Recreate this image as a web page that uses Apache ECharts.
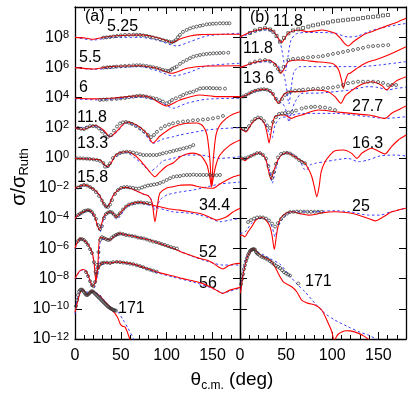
<!DOCTYPE html>
<html><head><meta charset="utf-8">
<script src="https://cdn.jsdelivr.net/npm/echarts@6/dist/echarts.min.js"></script>
<style>html,body{margin:0;padding:0;background:#fff}#c{width:415px;height:395px}</style>
</head><body><div id="c"></div>
<script>
// ---- values: [angle (deg), log10(sigma/sigma_Ruth)] ; offsets in decades ----
const xTicks = [0, 50, 100, 150];
const yTickExps = [-12, -10, -8, -6, -4, -2, 0, 2, 4, 6, 8];
const offsetsA = [8, 6, 4, 2, 0, -2, -4, -6, -8, -10];
const offsetsB = [8, 6, 4, 2, 0, -4, -8];
const energiesA = ['5.25', '5.5', '6', '11.8', '13.3', '15.8', '34.4', '52', '56', '171'];
const energiesB = ['11.8', '11.8', '13.6', '27.7', '16.3', '25', '171'];

// Panel (a)
const a1_pts = [[30.9,-0.03],[34.5,-0.01],[38.2,0.01],[42,0.05],[45.8,0.08],[50,0.12],[54.5,0.15],[59,0.16],[63.6,0.17],[67.3,0.16],[70.9,0.15],[74.5,0.12],[78.2,0.08],[81.7,0.03],[85.1,-0.02],[89,-0.08],[92.7,-0.14],[96.3,-0.2],[100,-0.25],[103,-0.3],[105.5,-0.34],[108,-0.28],[110.1,-0.19],[112.3,0],[114.5,0.15],[117.8,0.35],[121.8,0.48],[125.4,0.58],[129,0.65],[132.7,0.7],[136.3,0.75],[139.6,0.79],[143.6,0.85],[147,0.87],[150.5,0.89],[154,0.9],[158.1,0.92],[161.7,0.92],[165.4,0.92],[168.5,0.92]];
const a1_red = [[0,-0.01],[10.9,-0.05],[18.5,-0.14],[32.7,0.01],[49.1,0.11],[74.2,0.15],[87.2,0.01],[98.1,-0.19],[105.8,-0.36],[114.5,-0.12],[125.4,0.08],[136.3,0.17],[158.1,0.19],[180,0.19]];
const a1_blue = [[0,0],[19.6,-0.19],[38.2,-0.03],[70.9,-0.01],[89.4,-0.19],[110.9,-0.58],[125.4,-0.3],[143.6,0.08],[165.4,0.21],[180,0.26]];

const a2_pts = [[30.9,-0.02],[35,0],[38.2,0.01],[42,0.03],[45.5,0.05],[50,0.07],[54.5,0.09],[59,0.11],[63.6,0.13],[67.3,0.14],[70.9,0.14],[74.5,0.12],[78.2,0.09],[82,0.05],[85.5,0.01],[89.1,-0.04],[92.5,-0.1],[95.9,-0.17],[99,-0.21],[101.7,-0.24],[104,-0.2],[105.8,-0.11],[108.5,-0.03],[110.9,0.05],[114.5,0.23],[118,0.37],[121.8,0.49],[125.4,0.61],[129,0.71],[132.7,0.77],[136.3,0.82],[140,0.86],[143.6,0.89],[147.2,0.91],[150.8,0.93],[154.5,0.94],[158.1,0.95],[162,0.96],[167.2,0.97]];
const a2_red = [[0,-0.02],[19.6,-0.11],[38.2,0.05],[70.9,0.11],[89.4,-0.06],[105.8,-0.39],[122.1,-0.06],[143.6,0.09],[180,0.11]];
const a2_blue = [[0,-0.02],[19.6,-0.13],[45.5,-0.02],[70.9,0.05],[89.1,-0.22],[107.2,-0.57],[121.8,-0.39],[143.6,0.09],[180,0.27]];

const a3_pts = [[27.3,-0.16],[31,-0.14],[34.6,-0.13],[40,-0.11],[45.5,-0.09],[50,-0.06],[54.5,-0.03],[59,0.02],[63.6,0.06],[67.3,0.1],[70.9,0.13],[74.5,0.1],[78.2,0.06],[82,0.01],[85.5,-0.04],[89.1,-0.09],[92.5,-0.18],[95.9,-0.27],[100,-0.38],[103,-0.3],[105.8,-0.16],[110,-0.05],[114.5,0.06],[118,0.17],[121.8,0.28],[125.4,0.34],[129,0.39],[132.7,0.5],[136.3,0.6],[140,0.62],[143.6,0.63],[147.2,0.63],[150.8,0.62],[154.5,0.61],[158.1,0.6],[163.6,0.59]];
const a3_red = [[0,-0.05],[19.6,-0.09],[38.2,-0.05],[70.9,0.11],[81.8,0.02],[100,-0.56],[114.5,-0.16],[136.3,0.17],[154.5,0.06],[180,0.06]];
const a3_blue = [[0,-0.09],[27.3,-0.16],[70.9,0.02],[92.7,-0.27],[107.2,-0.71],[121.8,-0.38],[143.6,-0.11],[180,-0.05]];

const a4_pts = [[3.3,-0.02],[6.5,-0.07],[9.8,-0.09],[13.1,0.01],[16.4,0.11],[19.6,0.11],[22.9,0.09],[26.2,-0.05],[29.4,-0.25],[32.7,-0.45],[36,-0.6],[39.3,-0.48],[42.5,-0.19],[45.8,0.08],[49.1,0.28],[52.3,0.36],[55.6,0.38],[58.9,0.33],[62.2,0.25],[66.5,0.11],[70.9,-0.05],[75.2,-0.25],[79.6,-0.48],[82.9,-0.62],[86.2,-0.48],[89.4,-0.27],[93.8,-0.05],[98.1,0.11],[102.5,0.21],[106.9,0.29],[112.3,0.36],[117.8,0.41],[123.2,0.44],[128.7,0.49],[134.1,0.51],[139.6,0.54],[145,0.57],[150.5,0.62],[156,0.68],[161.4,0.78]];
const a4_red = [[0,0],[9.1,-0.11],[21.8,0.16],[30.9,-0.15],[38.2,-0.6],[45.8,-0.22],[56.4,0.38],[67.3,0.18],[78.2,-0.37],[85.1,-1.01],[92.7,-0.55],[106.9,0.05],[120,0.28],[133,0.31],[139.6,0.11],[144,-0.48],[147.2,-2.14],[149,-3.91],[150.8,-2.14],[153.8,-0.48],[158.1,0.18],[165.4,0.64],[172.3,0.9],[180,1.06]];
const a4_blue = [[0,-0.04],[10.9,0.05],[20,0.11],[30.5,-0.22],[38.2,-0.62],[45.8,-0.28],[56.4,0.33],[67.3,0.07],[76.3,-0.42],[85.1,-1.03],[96,-0.75],[106.9,-0.6],[114.5,-0.48],[125.4,-0.35],[143.6,-0.15],[161.4,-0.05],[180,0]];

const a5_pts = [[1.9,-0.03],[5.5,-0.03],[9,-0.04],[12.8,-0.05],[16,-0.07],[20,-0.1],[23.7,-0.14],[27.3,-0.2],[30.9,-0.34],[32.7,-0.58],[36,-0.54],[38.2,-0.36],[41.4,-0.01],[45.5,0.19],[49.1,0.32],[52.7,0.38],[56.4,0.41],[60,0.39],[63.6,0.35],[67.3,0.3],[71,0.24],[74.5,0.19],[78,0.19],[81.8,0.19],[85.5,0.19],[89.1,0.19],[92.5,0.24],[95.9,0.3],[99.7,0.35],[103.6,0.41],[107.2,0.46],[110.9,0.52],[114.5,0.57],[118.2,0.63],[121.8,0.68],[125.4,0.74],[129,0.85]];
const a5_red = [[0,-0.03],[12.8,-0.07],[27.3,-0.14],[34.6,-0.58],[39.3,-0.34],[43.6,0.13],[49.1,0.36],[56.4,0.41],[63.2,0.26],[70.9,-0.14],[79.9,-0.8],[87.2,-1.25],[92.7,-0.93],[100,-0.54],[106.9,-0.34],[114.5,0.06],[121.8,0.26],[128.7,0.32],[136.3,0.19],[139.6,-0.01],[144,-0.47],[147.2,-1.33],[149,-1.91],[150.8,-1.33],[153.8,-0.47],[158.1,0.19],[169,0.85],[180,1.19]];
const a5_blue = [[0,-0.03],[27.3,-0.16],[34.6,-0.67],[41.4,-0.14],[49.1,0.3],[56.4,0.34],[65.4,-0.01],[74.5,-0.47],[81.8,-0.91],[89.1,-0.6],[96,-0.2],[106.9,-0.03],[121.8,0.19],[136.3,0.19],[158.1,-0.03],[180,0.08]];

const a6_pts = [[3.3,0.04],[6.5,0.14],[9.8,0.21],[13.1,0.17],[16.4,0.07],[19.6,-0.06],[22.9,-0.26],[26.2,-0.52],[29.4,-0.82],[31.6,-1.05],[33.8,-1.22],[36,-1.25],[38.2,-1.09],[40.4,-0.79],[43.6,-0.39],[46.9,-0.13],[50.2,0.01],[53.4,0.06],[56.7,0.07],[60,0.04],[63.3,0.01],[66.5,-0.03],[69.8,-0.03],[73.1,0.04],[76.3,0.11],[79.6,0.17],[82.9,0.2],[86.2,0.24],[89.4,0.27],[92.7,0.34],[96.3,0.42],[100,0.54],[103.6,0.65],[107.3,0.74],[111,0.78],[114.5,0.8],[118.3,0.85],[122,0.87],[125.4,0.87],[129,0.89],[132.7,0.87],[136.3,0.87],[140,0.87],[143.6,0.87],[147.2,0.87],[150.8,0.85],[154.5,0.85],[158.1,0.87]];
const a6_red = [[0,-0.01],[5.5,0.14],[10.9,0.21],[16.4,0.07],[21.8,-0.13],[27.3,-0.52],[30.9,-0.99],[34.6,-1.27],[38.2,-0.99],[41.4,-0.52],[46.9,-0.13],[52.3,0.04],[56.4,0.05],[61.1,-0.03],[67.3,-0.19],[74.2,-0.39],[80,-0.52],[84,-0.93],[87.2,-2.23],[90.5,-0.93],[92.7,-0.33],[100,0.01],[106.9,0.09],[114.5,0.19],[125.4,0.21],[136.3,0.07],[143.9,0.01],[150.4,-0.01],[158.1,0.27],[165.8,0.54],[172.3,0.74],[180,0.87]];
const a6_blue = [[0,-0.01],[10.9,0.17],[21.8,-0.16],[27.3,-0.59],[34.6,-1.32],[40.4,-0.59],[46.9,-0.13],[56.4,0.04],[67.3,-0.19],[74.2,-0.39],[81.8,-0.59],[87.2,-1.45],[92.7,-0.79],[100,-0.46],[114.5,-0.26],[128.7,-0.13],[143.6,0.07],[158.1,0.27],[180,0.4]];

const a7_pts = [[3.3,0.21],[5.5,0.31],[7.7,0.38],[9.8,0.48],[12,0.51],[14.2,0.54],[16.4,0.51],[18.5,0.41],[20.7,0.21],[22.9,-0.05],[25.1,-0.45],[27.3,-0.72],[29.4,-0.52],[31.6,0.01],[33.8,0.28],[36,0.38],[38.2,0.43],[40.4,0.38],[42.5,0.25],[44.7,0.11],[46.9,0.18],[49.1,0.34],[52.3,0.58],[55.6,0.78],[58.9,0.91],[62.2,0.97],[65.4,1.01],[68.7,1.05],[72,1.05],[75.2,1.01],[78.5,1.01],[81.8,0.98]];
const a7_red = [[0,-0.01],[3.3,0.21],[7.3,0.36],[14.2,0.54],[18.5,0.41],[21.8,0.08],[24,-0.38],[26.5,-0.78],[28.9,-0.38],[31.6,0.15],[34.9,0.34],[38.2,0.43],[41.4,0.34],[45.5,0.06],[49.1,0.34],[56.4,0.81],[63.2,1],[70.9,1.07],[81.8,0.91],[92.7,0.76],[103.6,0.61],[114.5,0.54],[125.4,0.43],[136.3,0.32],[143.9,0.15],[150.4,-0.03],[154.5,-0.12],[159.2,-0.05],[165.4,0.1],[172.3,0.41],[180,0.66]];
const a7_blue = [[0,-0.01],[14.2,0.48],[21.8,0.01],[27.3,-0.91],[31.6,0.01],[38.2,0.41],[45.8,-0.05],[56.4,0.74],[70.9,1.01],[87.2,0.74],[106.9,0.43],[125.4,0.34],[136.3,0.21],[147.2,0.01],[158.1,-0.23],[169,-0.12],[180,-0.01]];

const a8_pts = [[3.3,0.49],[5.5,0.62],[7.6,0.62],[9.8,0.56],[12,0.42],[14.2,0.23],[16.4,-0.04],[18.5,-0.3],[20.7,-0.9],[22.4,-1.55],[24,-1.09],[25.6,-0.24],[27.3,0.56],[29.4,0.75],[31.6,0.69],[33.8,0.62],[36,0.56],[38.2,0.59],[40.4,0.72],[42.5,0.82],[44.7,0.89],[46.9,0.95],[49.1,0.99],[52.3,0.95],[55.6,0.89],[58.9,0.86],[62.2,0.82],[65.4,0.79],[68.7,0.72],[72,0.69],[75.2,0.66],[78.5,0.59],[81.8,0.52],[85.1,0.46],[88.3,0.42],[91.6,0.36],[94.9,0.29],[98.1,0.23],[101.4,0.16],[104.7,0.09],[108,0.03],[111.2,-0.01]];
const a8_red = [[0,0.01],[2.7,0.42],[5.5,0.67],[8.7,0.59],[12,0.44],[15.3,0.16],[18.5,-0.22],[20.7,-0.9],[22.9,-2.23],[25.1,-0.9],[27.3,0.76],[32.7,0.66],[38.2,0.56],[43.6,0.85],[49.1,1],[56.4,0.89],[63.2,0.82],[70.9,0.69],[81.8,0.56],[92.7,0.32],[100,0.16],[106.9,0.01],[114.5,-0.2],[125.4,-0.44],[136.3,-0.67],[143.6,-0.77],[150.4,-0.97],[155.9,-1.2],[161.4,-1.36],[166.9,-1.17],[173.4,-1.03],[180,-0.99]];
const a8_blue = [[0,-0.04],[5.5,0.62],[12,0.42],[18.5,-0.3],[21.8,-1.29],[24,-1.95],[26.2,-0.64],[28.4,0.56],[38.2,0.62],[49.1,0.95],[63.3,0.82],[81.8,0.56],[100,0.16],[114.5,-0.17],[125.4,-0.47],[143.6,-0.84],[161.4,-1.1],[180,-1.1]];

const a9_pts = [[12,0.43],[14.2,0.17],[16.4,-0.17],[18.5,-0.43],[20.2,-0.5],[21.8,-0.23],[23.4,0.3],[25.1,0.7],[27.3,0.93],[29.4,1.03],[31.6,1.06],[34.9,1.06],[38.2,1.03],[41.4,1.09],[45.5,1.11],[49.1,1.09],[52.7,1.06],[56.4,1.03],[60,0.99],[63.6,0.96],[67.3,0.89],[70.9,0.83],[74.5,0.76],[78.2,0.66],[81.8,0.6],[85.4,0.53],[89.1,0.46]];
const a9_red = [[0,0.01],[3.3,0.36],[5.5,0.53],[9.1,0.61],[12,0.5],[14.7,0.17],[17.4,-0.3],[20,-0.5],[22.4,-0.1],[24.5,0.56],[27.3,0.89],[29.1,1.05],[34.6,1.06],[38.2,1.03],[45.5,1.11],[54.5,1.06],[63.6,0.96],[70.9,0.83],[85.4,0.52],[96,0.33],[107.2,0.17],[117.8,0],[129,-0.15],[139.6,-0.33],[150.8,-0.65],[155.9,-0.83],[161.1,-0.98],[164.7,-0.89],[169,-0.76],[180,-0.58]];
const a9_blue = [[0,-0.03],[5.5,0.5],[9.8,0.6],[14.2,0.17],[18,-0.43],[20.7,-0.63],[23.4,0.03],[27.3,0.83],[34.6,1.03],[45.5,1.09],[63.6,0.93],[85.4,0.46],[107.2,0.1],[129,-0.23],[143.6,-0.5],[154.5,-0.76],[161.4,-0.96],[169,-0.83],[180,-0.63]];

const a10_pts = [[1.1,0.18],[2.2,0.58],[3.3,0.91],[4.4,1.14],[5.5,1.24],[6.5,1.27],[7.6,1.27],[8.7,1.21],[9.8,1.11],[10.9,1.01],[12,0.94],[13.1,0.91],[14.2,0.94],[15.3,1.01],[16.4,1.07],[17.4,1.14],[18.5,1.17],[19.6,1.14],[20.7,1.07],[21.8,1.01],[22.9,0.94],[24,0.87],[25.1,0.81],[26.2,0.74],[27.3,0.68],[28.4,0.61],[29.4,0.54],[30.5,0.47],[31.6,0.41],[32.7,0.34],[33.8,0.28],[34.9,0.21],[36,0.15],[37.1,0.1],[38.2,0.05],[39.3,0.01],[40.4,-0.02],[41.5,-0.06],[42.5,-0.09],[43.6,-0.11],[44.7,-0.12]];
const a10_red = [[0,-0.22],[2.2,0.31],[4.4,0.84],[6.5,1.17],[8.4,1.28],[10.9,1.11],[13.4,0.91],[16.4,1.08],[19.3,1.17],[22.9,1.04],[27.3,0.84],[31.6,0.54],[36.3,0.24],[40.4,-0.09],[43.6,-0.3],[46.9,-0.62],[49.1,-0.97],[51.8,-1.15],[54.5,-1.19],[56.7,-1.48],[60,-2.03],[63.2,-2.4]];
const a10_blue = [[0,-0.35],[2.2,0.58],[5.5,1.11],[8.7,1.27],[12,1.11],[16.4,1.11],[20.7,1.11],[27.3,0.91],[36.3,0.24],[43.6,-0.09],[46.9,-0.22],[52.7,-0.75],[57.8,-1.28],[63.6,-1.96],[66.5,-2.4]];

// Panel (b)
const b1_pts = [[10.8,0.28],[16.3,0.44],[21.7,0.54],[27.1,0.59],[32.5,0.51],[36.2,0.36],[39.6,0.08],[43.4,-0.3],[47.7,-0.05],[52.4,0.26],[57.5,0.44],[63.2,0.52],[68.3,0.61],[74.1,0.7],[79.2,0.78],[84.6,0.84],[90,0.92],[95.4,0.97],[100.8,1.05],[106.3,1.09],[111.7,1.12],[117.1,1.16],[122.6,1.19],[128,1.22],[133.4,1.27],[138.8,1.32],[144.3,1.35],[149.7,1.38],[155.1,1.44],[160.5,1.47]];
const b1_red = [[0,-0.01],[1.8,0.08],[7.6,0.25],[13,0.38],[19.8,0.48],[29,0.59],[34.7,0.44],[38,0.26],[41.2,-0.05],[45.2,-0.36],[48.8,-0.05],[52.4,0.26],[57.5,0.41],[63.2,0.48],[74.1,0.36],[81.3,0.41],[88.6,0.48],[95.4,0.41],[103,0.26],[108.5,-0.05],[112.8,-0.38],[117.5,-0.58],[122.6,-0.32],[128.3,-0.07],[135.6,0.21],[142.8,0.36],[157.3,0.7],[171.7,1.03],[180,1.25]];
const b1_blue = [[0,-0.01],[16.3,0.34],[29,0.48],[38,0.21],[43.4,-0.32],[46.6,-1.25],[49.3,-2.24],[52.1,-1.25],[55.3,-0.19],[60.7,0.21],[70.5,0.31],[86.8,0.31],[103,0.26],[117.1,0.01],[128,0.08],[141,0.41],[157.3,0.68],[180,0.91]];

const b2_pts = [[10.8,0.26],[16.3,0.38],[21.7,0.46],[27.1,0.49],[32.5,0.39],[37.9,0.16],[41.2,-0.11],[43.4,-0.28],[47.2,0.03],[52.4,0.49],[57.5,0.56],[62.9,0.59],[68.3,0.62],[73.8,0.66],[79.2,0.69],[84.9,0.71],[89.9,0.75],[95.4,0.82],[100.8,0.89],[106.3,0.95],[111.7,1.02],[117.1,1.09],[122.6,1.15],[128,1.22],[133.4,1.29],[139.1,1.38],[144.3,1.41],[149.7,1.43],[155.1,1.46],[160.8,1.48]];
const b2_red = [[0,-0.01],[7.6,0.16],[13,0.29],[19.8,0.38],[30.7,0.49],[36.9,0.29],[41.2,-0.04],[44.5,-0.39],[48.3,-0.04],[52.4,0.38],[63.2,0.49],[81.3,0.38],[99.4,0.27],[104.1,0.09],[107.4,-0.24],[110.1,-0.84],[112.1,-1.39],[114.5,-0.84],[117.1,-0.44],[119.3,-0.39],[125.8,-0.11],[132.3,0.16],[138.8,0.36],[146.4,0.49],[160.8,0.82],[180,1.37]];
const b2_blue = [[0,-0.01],[16.3,0.29],[30.7,0.38],[39,0.23],[46.6,-0.3],[49.9,-1.17],[53.1,-2.43],[55.9,-1.17],[58.6,-0.3],[65.1,0.05],[86.8,0.05],[108.5,0.05],[130.2,0.05],[151.8,0.16],[180,0.38]];

const b3_pts = [[3.3,0.07],[6.5,0.17],[9.8,0.27],[13,0.37],[16.3,0.45],[19.5,0.5],[22.8,0.54],[26,0.55],[29.3,0.52],[32.5,0.44],[35.8,0.24],[39,-0.09],[42.3,-0.31],[45.6,-0.09],[48.8,0.17],[52.1,0.34],[55.3,0.4],[59.7,0.46],[64,0.49],[68.3,0.52],[73.8,0.55],[79.2,0.57],[84.6,0.59],[90,0.62],[95.4,0.64],[100.8,0.67],[106.3,0.73],[111.7,0.83],[117.1,0.95],[122.6,1],[128,1.05],[133.4,1.05],[138.8,1.05],[144.3,1.05],[149.7,1.03],[155.1,0.97],[160.5,0.83],[164.9,0.83],[169.2,0.83]];
const b3_red = [[0,-0.01],[7.6,0.17],[13,0.37],[19.8,0.5],[27.1,0.55],[34.7,0.3],[38,-0.03],[41.5,-0.38],[45.6,0.04],[48.8,0.29],[56.1,0.39],[67,0.39],[81.3,0.5],[95.4,0.39],[103,0.06],[109.5,-0.38],[114.1,0.11],[120.6,0.44],[127.2,0.72],[134.4,0.93],[142.9,1.05],[149.9,0.93],[154.2,0.77],[159.2,0.5],[162.7,0.72],[169.2,1.09],[180,1.38]];
const b3_blue = [[0,-0.01],[16.3,0.37],[27.1,0.5],[34.7,0.27],[41.2,-0.23],[46.6,-0.42],[50.4,-0.95],[53.1,-1.62],[55.9,-0.95],[59.7,-0.29],[67.2,0.28],[86.8,0.3],[103,0.39],[119.3,0.5],[139.2,0.72],[149.7,0.67],[160.8,0.5],[168.1,0.6],[180,0.68]];

const b4_pts = [[3.3,-0.09],[6.5,-0.12],[9.8,0.11],[13,0.41],[16.3,0.58],[19.5,0.68],[22.8,0.64],[26,0.44],[29.3,0.15],[32.5,-0.02],[35.8,0.38],[39,0.71],[42.3,0.91],[45.6,0.95],[48.8,0.97],[52.4,1.01],[56.4,1.04],[60.7,1.14],[66.9,1.27],[71.6,1.34],[77,1.37],[81.3,1.39],[86.8,1.37],[92.2,1.34],[97.6,1.27],[103,1.17]];
const b4_red = [[0,-0.04],[3.3,-0.15],[6.5,-0.28],[9.8,-0.02],[13,0.31],[16.3,0.51],[19.8,0.64],[23.9,0.51],[27.1,0.18],[29.3,-0.35],[31.5,-1.01],[33.6,-0.35],[35.8,0.38],[37.9,0.73],[43.4,0.84],[48.8,0.84],[52.4,0.71],[56.1,0.62],[60.7,0.74],[66.9,0.84],[75.9,1.04],[84.9,1.17],[93.3,1.14],[103,1.06],[121.1,0.95],[139.1,0.84],[147.5,0.74],[157.3,0.62],[164.9,0.97],[173.5,1.24],[180,1.44]];
const b4_blue = [[0,-0.04],[6.5,-0.22],[13,0.31],[19.8,0.64],[27.1,0.31],[31.5,-0.35],[34.7,-0.68],[38,0.18],[43.4,0.64],[50.7,0.73],[66.9,0.95],[103,0.95],[139.1,0.73],[157.3,0.62],[180,0.73]];

const b5_pts = [[2.2,-0.04],[5.4,-0.03],[8.7,0.04],[11.9,0.13],[15.2,0.22],[18.4,0.32],[21.7,0.32],[24.9,0.19],[28.2,-0.04],[30.9,-0.54],[33.1,-1.07],[34.7,-1.33],[36.9,-0.93],[39,-0.4],[41.2,0.03],[44.5,0.26],[47.7,0.32],[51,0.34],[54.2,0.29],[57.5,0.16],[60.7,0.03],[64,-0.14],[67.2,-0.27],[70.5,-0.36]];
const b5_red = [[0,-0.03],[1.8,-0.03],[5.4,-0.19],[9.8,0.06],[14.4,0.19],[19.8,0.34],[24.9,0.19],[28.2,-0.14],[30.7,-0.8],[33.6,-1.41],[36.9,-0.8],[40.1,-0.27],[43.4,0.08],[50.7,0.34],[56.4,0.19],[65.1,-0.14],[70.5,-0.36],[74.8,-0.8],[77.9,-1.25],[80.4,-1.86],[83.3,-2.57],[85.9,-1.86],[88,-0.93],[92.2,-0.25],[97.6,0.19],[103,0.48],[112.1,0.52],[121.1,0.3],[126.6,-0.03],[132.3,0.32],[142.8,0.64],[149.7,0.46],[157.3,0.26],[163.8,0.72],[171.7,1.19],[180,1.52]];
const b5_blue = [[0,-0.03],[5.4,-0.11],[10.8,0.09],[19.8,0.32],[24.9,0.19],[29.3,-0.27],[32.5,-0.93],[35,-1.68],[38,-0.93],[41.2,-0.2],[45.6,0.26],[52.4,0.34],[59.7,0.13],[65.1,-0.14],[68.7,-0.69],[72.3,-0.8],[75.9,-0.47],[81.3,-0.36],[92.2,-0.25],[103,-0.14],[117.1,-0.03],[128.3,-0.25],[138.8,-0.14],[151.8,0.13],[168.1,0.19],[180,0.13]];

const b6_pts = [[8.7,-0.25],[11.9,-0.12],[15.2,-0.02],[18.4,0.05],[21.7,0.06],[24.9,0.05],[28.2,-0.02],[31.4,-0.15],[34.7,-0.35],[38,-0.55],[41.2,-0.32],[44.5,-0.05],[47.7,0.15],[51,0.31],[54.2,0.41],[58,0.43],[61.8,0.44],[65.6,0.44],[69.4,0.44],[73.2,0.43],[77,0.43],[80.8,0.43],[84.6,0.43],[88.6,0.43]];
const b6_red = [[0,-1.18],[1.8,-1.11],[5.4,-1.22],[8.7,-0.9],[12.7,-0.56],[16.3,-0.19],[19.8,-0.01],[23.9,0.05],[28.2,-0.12],[32.5,-0.56],[34.7,-1.11],[37.2,-2.06],[39.6,-1.11],[42.3,-0.25],[45.2,0.1],[49.9,0.34],[56.1,0.43],[65.1,0.31],[74.1,0.21],[81.3,0.25],[88.6,0.36],[103,0.43],[121.1,0.33],[139.1,-0.01],[146.4,-0.17],[155.1,0.08],[163.8,0.41],[171.4,0.54],[180,0.66]];
const b6_blue = [[0,-1],[5.4,-0.91],[12.7,-0.32],[19.8,-0.01],[27.1,-0.05],[32.5,-0.25],[35.2,-0.65],[38,-1.23],[40.7,-0.65],[45.2,-0.12],[50.7,0.28],[56.1,0.43],[74.1,0.43],[103,0.5],[121.1,0.41],[139.1,0.21],[151.8,0.21],[162.7,0.41],[180,0.66]];

const b7_pts = [[1.1,-0.36],[2.2,-0.03],[3.3,0.3],[4.3,0.63],[5.4,0.89],[6.5,1.16],[7.6,1.36],[8.7,1.56],[9.8,1.69],[10.8,1.82],[11.9,1.89],[13,1.92],[14.1,1.95],[15.2,1.95],[16.3,1.92],[17.4,1.76],[18.4,1.69],[19.5,1.62],[21.7,1.52],[23.9,1.44],[26,1.39],[28.2,1.33],[30.4,1.26],[32.5,1.16],[34.7,1.06],[36.9,0.96],[39,0.86],[41.2,0.78],[43.4,0.7],[45.6,0.56],[47.7,0.43],[49.9,0.34],[52.1,0.27],[54.2,0.2],[63.2,-0.32]];
const b7_red = [[0.5,-0.96],[2.2,-0.23],[4.3,0.56],[7.6,1.36],[10.8,1.79],[14.1,1.99],[18.4,1.76],[23.9,1.49],[32.5,1.23],[38,0.78],[41.5,0.34],[47,-0.21],[56.1,-0.54],[61.5,-0.87],[66.9,-1.42],[74.1,-1.64],[81.3,-1.75],[88.6,-2.08],[95.8,-2.97],[99.5,-3.5],[102.3,-4.14],[104.5,-3.85],[107,-3.65],[110.3,-3.53],[115,-3.45],[119.3,-3.46],[128,-3.61],[134.5,-3.81],[139.2,-4.03],[143.2,-4.41]];
const b7_blue = [[0.5,-0.89],[3.3,0.43],[6.5,1.36],[10.8,1.76],[15.2,1.89],[19.5,1.76],[26,1.56],[32.5,1.33],[43.4,0.96],[54.2,0.17],[62.9,-0.43],[70.5,-0.87],[81.3,-1.64],[92.2,-2.31],[103,-2.75],[117.5,-3.2],[130.2,-3.55],[139.2,-3.74],[148.6,-4.04],[151.8,-4.21]];

// ---- chart ----
const FONT = '"Liberation Sans", Arial, sans-serif';
const curvesA = [
  [a1_pts, a1_red, a1_blue], [a2_pts, a2_red, a2_blue], [a3_pts, a3_red, a3_blue],
  [a4_pts, a4_red, a4_blue], [a5_pts, a5_red, a5_blue], [a6_pts, a6_red, a6_blue],
  [a7_pts, a7_red, a7_blue], [a8_pts, a8_red, a8_blue], [a9_pts, a9_red, a9_blue],
  [a10_pts, a10_red, a10_blue]
];
const curvesB = [
  [b1_pts, b1_red, b1_blue], [b2_pts, b2_red, b2_blue], [b3_pts, b3_red, b3_blue],
  [b4_pts, b4_red, b4_blue], [b5_pts, b5_red, b5_blue], [b6_pts, b6_red, b6_blue],
  [b7_pts, b7_red, b7_blue]
];
const shift = (arr, off) => arr.map(p => [p[0], p[1] + off]);

const series = [];
function addCurves(curves, offsets, xi, yi, panel) {
  curves.forEach((c, i) => {
    const off = offsets[i];
    series.push({ type: 'line', xAxisIndex: xi, yAxisIndex: yi, data: shift(c[2], off), showSymbol: false,
      smooth: 0.25, lineStyle: { color: '#3c3cff', width: 1, type: [2.5, 2.5] }, silent: true, z: 3 });
    series.push({ type: 'line', xAxisIndex: xi, yAxisIndex: yi, data: shift(c[1], off), showSymbol: false,
      smooth: 0.25, lineStyle: { color: '#ff0000', width: 1.1 }, silent: true, z: 4 });
    series.push({ type: 'scatter', xAxisIndex: xi, yAxisIndex: yi, data: shift(c[0], off),
      symbol: (panel === 'b' && i === 0) ? 'rect' : 'circle', symbolSize: 3,
      itemStyle: { color: 'rgba(0,0,0,0)', borderColor: '#333', borderWidth: 0.9 }, silent: true, z: 5 });
  });
}
addCurves(curvesA, offsetsA, 0, 0, 'a');
addCurves(curvesB, offsetsB, 2, 2, 'b');

function xAx(grid, pos, labels) {
  return { type: 'value', gridIndex: grid, position: pos, min: 0, max: 180, interval: 50,
    axisLine: { show: true, onZero: false, lineStyle: { color: '#000', width: 1.3 } },
    axisTick: { show: true, inside: true, length: 7, lineStyle: { color: '#000', width: 1 } },
    minorTick: { show: true, splitNumber: 5, length: 4, lineStyle: { color: '#000', width: 1 } },
    splitLine: { show: false }, minorSplitLine: { show: false },
    axisLabel: { show: labels, color: '#000', fontSize: 16, fontFamily: FONT, margin: 9,
      customValues: xTicks } };
}
function yAx(grid, pos, labels) {
  return { type: 'value', gridIndex: grid, position: pos, min: -12, max: 10, interval: 2,
    axisLine: { show: true, onZero: false, lineStyle: { color: '#000', width: 1.3 } },
    axisTick: { show: true, inside: true, length: 7, lineStyle: { color: '#000', width: 1 } },
    splitLine: { show: false },
    axisLabel: { show: labels, margin: 6, color: '#000', fontFamily: FONT,
      customValues: yTickExps,
      formatter: v => '{b|10}{s|' + String(v).replace('-', '\u2212') + '}',
      rich: { b: { fontSize: 16, fontFamily: FONT, color: '#000', verticalAlign: 'bottom', padding: [2, 0, 0, 0], lineHeight: 16 },
              s: { fontSize: 11, fontFamily: FONT, color: '#000', verticalAlign: 'top', lineHeight: 11 } } } };
}

const txt = (s, x, y) => ({ type: 'text', x: x, y: y, z: 1,
  style: { text: s, font: '16px ' + FONT, fill: '#000', verticalAlign: 'middle', align: 'left' } });

const labelsA = [[107, 27], [79, 58], [79, 88], [77, 118], [77, 144], [77, 178], [199, 206], [199, 253], [199, 284], [118, 309]];
const labelsB = [[273, 22], [243, 49], [243, 79], [352, 107], [352, 144], [352, 207], [305, 282]];

const graphics = [txt('(a)', 85, 17), txt('(b)', 250, 18)];
energiesA.forEach((e, i) => graphics.push(txt(e, labelsA[i][0], labelsA[i][1])));
energiesB.forEach((e, i) => graphics.push(txt(e, labelsB[i][0], labelsB[i][1])));
graphics.push({ type: 'text', x: 232, y: 380, z: 1,
  style: { text: '{a|\u03b8}{s|c.m.}{a| (deg)}', align: 'center', verticalAlign: 'middle',
    rich: { a: { font: '19px ' + FONT, fill: '#000', verticalAlign: 'top', lineHeight: 19 },
            s: { font: '12px ' + FONT, fill: '#000', verticalAlign: 'top', padding: [9, 0, 0, 0], lineHeight: 12 } } } });
graphics.push({ type: 'text', x: 19, y: 177, rotation: Math.PI / 2, z: 1,
  style: { text: '{a|\u03c3/\u03c3}{s|Ruth}', align: 'center', verticalAlign: 'middle',
    rich: { a: { font: '20px ' + FONT, fill: '#000', verticalAlign: 'top', lineHeight: 20 },
            s: { font: '13px ' + FONT, fill: '#000', verticalAlign: 'top', padding: [9, 0, 0, 0], lineHeight: 13 } } } });

const chart = echarts.init(document.getElementById('c'), null, { renderer: 'canvas' });
chart.setOption({
  animation: false,
  backgroundColor: '#fff',
  grid: [
    { left: 75, top: 7, width: 165, height: 332 },
    { left: 240, top: 7, width: 166, height: 332 }
  ],
  xAxis: [xAx(0, 'bottom', true), xAx(0, 'top', false), xAx(1, 'bottom', true), xAx(1, 'top', false)],
  yAxis: [yAx(0, 'left', true), yAx(0, 'right', false), yAx(1, 'left', false), yAx(1, 'right', false)],
  series: series,
  graphic: graphics
});
</script></body></html>
